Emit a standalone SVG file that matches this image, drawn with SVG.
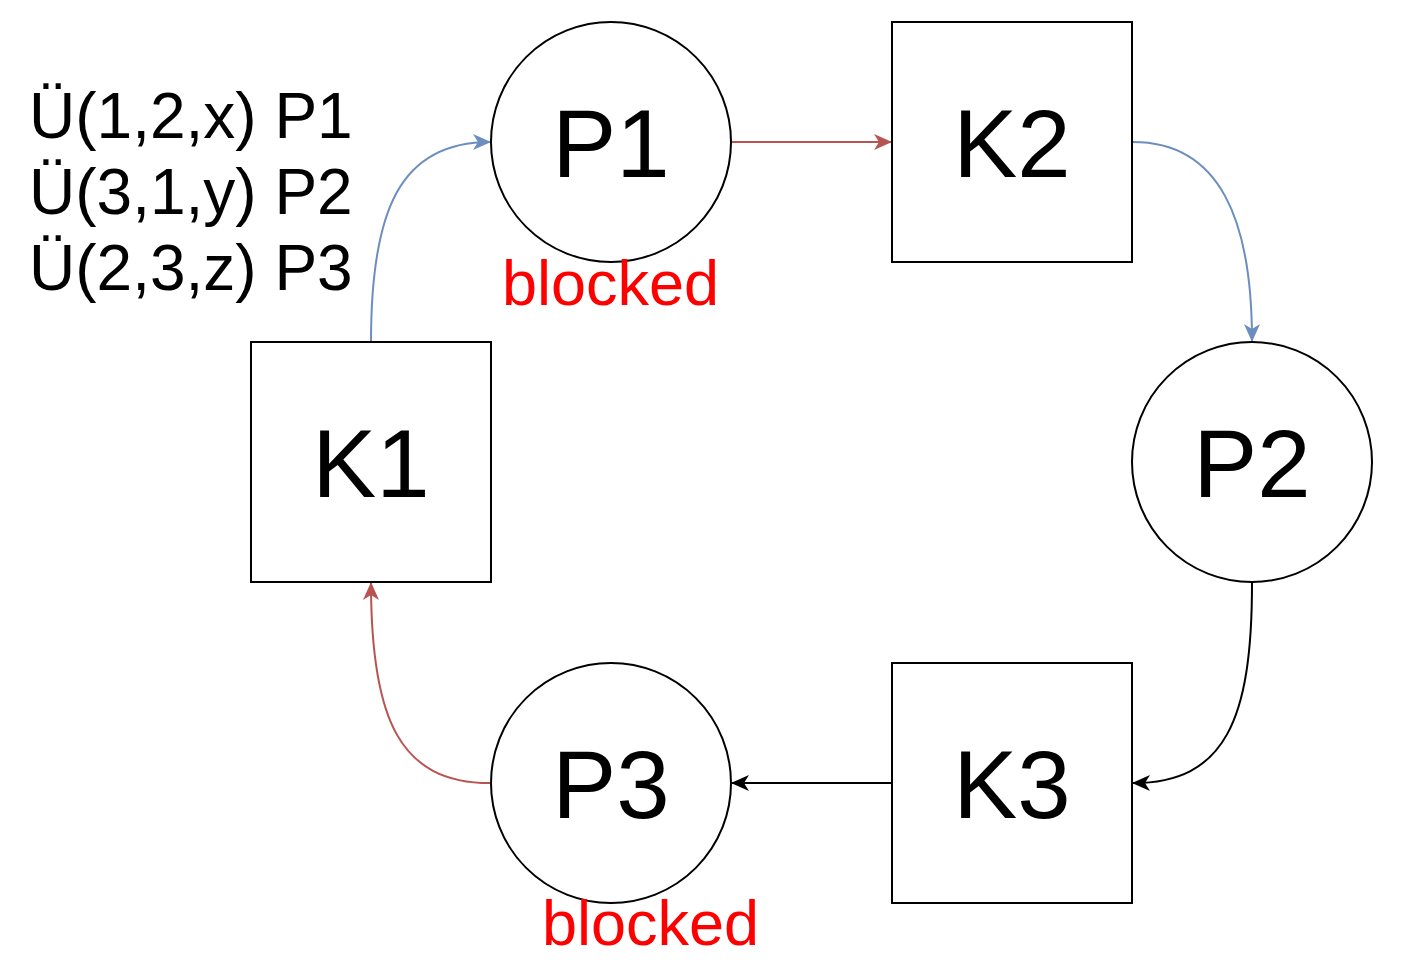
<svg xmlns="http://www.w3.org/2000/svg" width="1408" height="970" viewBox="0 0 1408 970">
<style>
.shape{fill:#fff;stroke:#000;stroke-width:2}
.lbl{font-family:"Liberation Sans",Arial,sans-serif;font-size:96px;fill:#000;text-anchor:middle}
.txt{font-family:"Liberation Sans",Arial,sans-serif;font-size:64px;fill:#000}
.red{font-family:"Liberation Sans",Arial,sans-serif;font-size:63px;fill:#ff0000}
.c{fill:none;stroke-width:2}
.blue{stroke:#6c8ebf}
.rd{stroke:#b85450}
.blk{stroke:#000}
</style>
<defs>
<marker id="ab" markerUnits="userSpaceOnUse" viewBox="0 0 18 16" markerWidth="18" markerHeight="16" refX="17" refY="8" orient="auto"><path d="M0 0 L18 8 L0 16 L5 8 Z" fill="#6c8ebf"/></marker>
<marker id="ar" markerUnits="userSpaceOnUse" viewBox="0 0 18 16" markerWidth="18" markerHeight="16" refX="17" refY="8" orient="auto"><path d="M0 0 L18 8 L0 16 L5 8 Z" fill="#b85450"/></marker>
<marker id="ak" markerUnits="userSpaceOnUse" viewBox="0 0 18 16" markerWidth="18" markerHeight="16" refX="17" refY="8" orient="auto"><path d="M0 0 L18 8 L0 16 L5 8 Z" fill="#000"/></marker>
</defs>
<rect width="1408" height="970" fill="#fff"/>
<g id="connectors">
<path class="c blue" d="M371 342 C371 210 400 142 490 142" marker-end="url(#ab)"/>
<path class="c rd" d="M732 142 L891 142" marker-end="url(#ar)"/>
<path class="c blue" d="M1133 142 C1220 142 1252 220 1252 341" marker-end="url(#ab)"/>
<path class="c blk" d="M1252 583 C1252 720 1225 783 1133 783" marker-end="url(#ak)"/>
<path class="c blk" d="M891 783 L732 783" marker-end="url(#ak)"/>
<path class="c rd" d="M490 783 C400 783 371 720 371 583" marker-end="url(#ar)"/>
</g>
<g id="P1"><circle class="shape" cx="611" cy="142" r="120"/><text class="lbl" x="611" y="177">P1</text></g>
<g id="K2"><rect class="shape" x="892" y="22" width="240" height="240"/><text class="lbl" x="1012" y="177">K2</text></g>
<g id="K1"><rect class="shape" x="251" y="342" width="240" height="240"/><text class="lbl" x="371" y="497">K1</text></g>
<g id="P2"><circle class="shape" cx="1252" cy="462" r="120"/><text class="lbl" x="1252" y="497">P2</text></g>
<g id="K3"><rect class="shape" x="892" y="663" width="240" height="240"/><text class="lbl" x="1012" y="818">K3</text></g>
<g id="P3"><circle class="shape" cx="611" cy="783" r="120"/><text class="lbl" x="611" y="818">P3</text></g>
<g id="legend">
<text class="txt" x="29" y="138">Ü(1,2,x) P1</text>
<text class="txt" x="29" y="214">Ü(3,1,y) P2</text>
<text class="txt" x="29" y="290">Ü(2,3,z) P3</text>
</g>
<g id="blocked1"><text class="red" x="502" y="305">blocked</text></g>
<g id="blocked3"><text class="red" x="542" y="945">blocked</text></g>
</svg>
